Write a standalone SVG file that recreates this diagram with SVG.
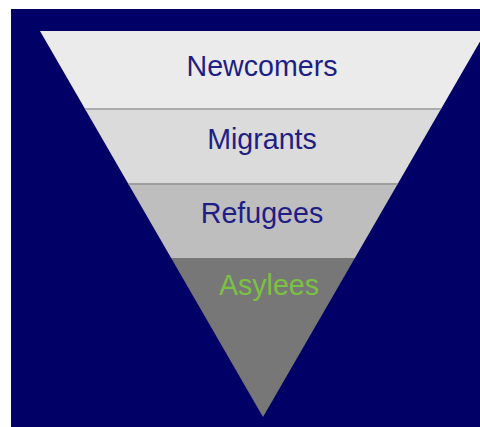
<svg xmlns="http://www.w3.org/2000/svg" width="480" height="427" viewBox="0 0 480 427">
<style>
.lbl{font-family:"Liberation Sans",Arial,sans-serif;font-size:28.6px;text-anchor:middle;fill:#1e1e84}
.sep{stroke:#acacac;stroke-width:2}
</style>
<defs>
<clipPath id="tri"><polygon points="40,31 486,31 263,417"/></clipPath>
</defs>
<rect x="0" y="0" width="480" height="427" fill="#ffffff"/>
<rect x="11" y="9" width="469" height="418" fill="#000066"/>
<g clip-path="url(#tri)">
<g id="newcomers">
<rect x="0" y="31" width="480" height="77" fill="#ebebeb"/>
<text class="lbl" x="262" y="76">Newcomers</text>
</g>
<g id="migrants">
<rect x="0" y="108" width="480" height="75" fill="#dbdbdb"/>
<line class="sep" x1="0" y1="109" x2="480" y2="109"/>
<text class="lbl" x="262" y="149">Migrants</text>
</g>
<g id="refugees">
<rect x="0" y="183" width="480" height="75" fill="#bebebe"/>
<line class="sep" x1="0" y1="184" x2="480" y2="184" style="stroke:#9e9e9e"/>
<text class="lbl" x="262" y="223">Refugees</text>
</g>
<g id="asylees">
<rect x="0" y="258" width="480" height="160" fill="#777777"/>
<text class="lbl" x="269" y="295" style="fill:#7cc242">Asylees</text>
</g>
</g>
</svg>
